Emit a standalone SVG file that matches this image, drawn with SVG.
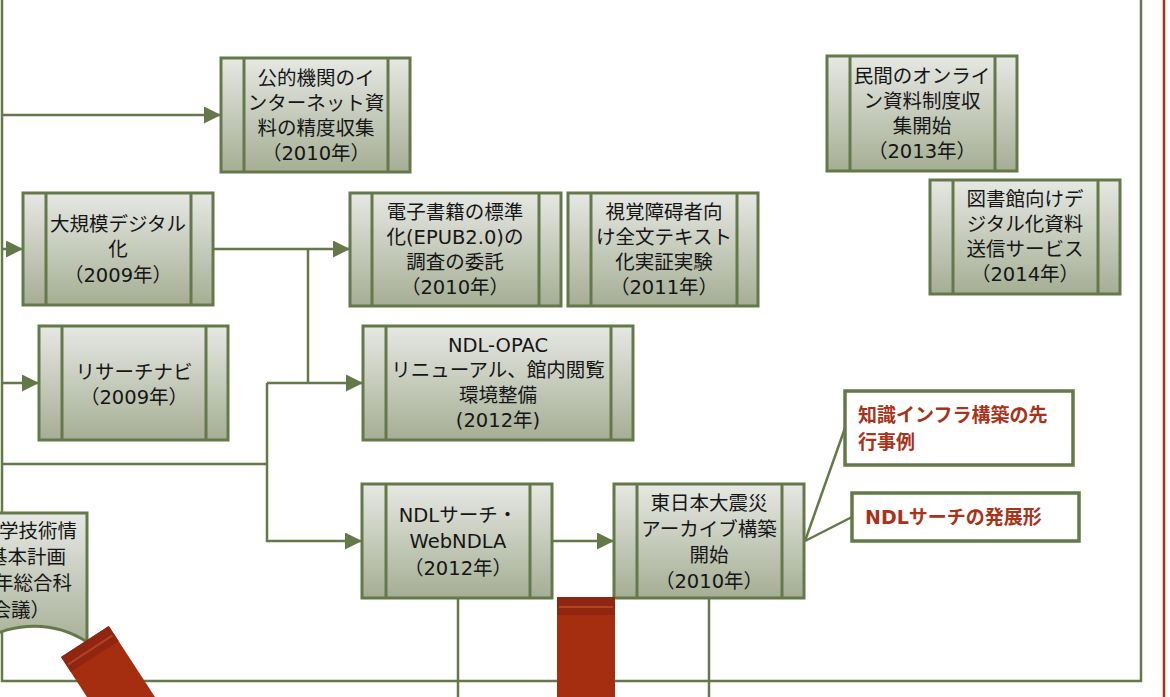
<svg xmlns="http://www.w3.org/2000/svg" width="1170" height="697" viewBox="0 0 1170 697">
<defs>
<linearGradient id="g" x1="0" y1="0" x2="0" y2="1">
<stop offset="0" stop-color="#e6e8e3"/>
<stop offset="1" stop-color="#a5ae94"/>
</linearGradient>
<marker id="ah" markerUnits="userSpaceOnUse" markerWidth="18" markerHeight="18" refX="17" refY="8.5" orient="auto">
<path d="M0,0 L17,8.5 L0,17 z" fill="#64784a"/>
</marker>
<style>
.box{fill:url(#g);stroke:#64784a;stroke-width:3}
.band{stroke:#64784a;stroke-width:3}
.t{font-family:"DejaVu Sans","Noto Sans CJK JP",sans-serif;font-size:19.5px;fill:#161616;text-anchor:middle}
.c{fill:none;stroke:#64784a;stroke-width:2.5}
.a{marker-end:url(#ah)}
.call{fill:#fff;stroke:#64784a;stroke-width:3.5}
.ct{font-family:"DejaVu Sans","Noto Sans CJK JP",sans-serif;font-size:19px;font-weight:bold;fill:#a8321a}
.bar{fill:#a52d10}
.cap{fill:#8e2611}
.capl{fill:#b4411f}
</style>
</defs>

<g id="frame">
<path class="c" d="M2,-5 V681 H1141 V-5"/>
<line x1="1164" y1="0" x2="1164" y2="697" stroke="#a8321a" stroke-width="2.5"/>
</g>

<g id="connectors">
<path class="c a" d="M2,115 H221"/>
<path class="c a" d="M2,249 H23"/>
<path class="c a" d="M213,249 H350"/>
<path class="c" d="M308,249 V383"/>
<path class="c a" d="M267,383 H363"/>
<path class="c" d="M2,464 H267"/>
<path class="c a" d="M267,383 V541 H362"/>
<path class="c a" d="M2,383 H39"/>
<path class="c a" d="M552,541 H614"/>
<path class="c" d="M805,541 L845,428"/>
<path class="c" d="M805,541 L852,517"/>
<path class="c" d="M458,598 V697"/>
<path class="c" d="M709,598 V697"/>
</g>

<g id="n-left">
<path class="box" d="M-30,513 H87 V642 A98,98 0 0 0 -30,650 Z"/>
<text class="t" style="text-anchor:end"><tspan x="77" y="538">学技術情</tspan><tspan x="66" y="564">基本計画</tspan><tspan x="72" y="590">年総合科</tspan><tspan x="50" y="617">会議）</tspan></text>
</g>

<g id="n1">
<rect class="box" x="221" y="58" width="189" height="114"/>
<line class="band" x1="244" y1="58" x2="244" y2="172"/><line class="band" x1="388" y1="58" x2="388" y2="172"/>
<text class="t"><tspan x="316" y="85">公的機関のイ</tspan><tspan x="316" y="110">ンターネット資</tspan><tspan x="316" y="135">料の精度収集</tspan><tspan x="316" y="160">（2010年）</tspan></text>
</g>

<g id="n2">
<rect class="box" x="23" y="193" width="190" height="112"/>
<line class="band" x1="46" y1="193" x2="46" y2="305"/><line class="band" x1="191" y1="193" x2="191" y2="305"/>
<text class="t"><tspan x="118" y="231">大規模デジタル</tspan><tspan x="118" y="256">化</tspan><tspan x="118" y="282">（2009年）</tspan></text>
</g>

<g id="n3">
<rect class="box" x="350" y="193" width="211" height="113"/>
<line class="band" x1="372" y1="193" x2="372" y2="306"/><line class="band" x1="539" y1="193" x2="539" y2="306"/>
<text class="t"><tspan x="455" y="219">電子書籍の標準</tspan><tspan x="455" y="244">化(EPUB2.0)の</tspan><tspan x="455" y="269">調査の委託</tspan><tspan x="455" y="294">（2010年）</tspan></text>
</g>

<g id="n4">
<rect class="box" x="568" y="193" width="190" height="113"/>
<line class="band" x1="591" y1="193" x2="591" y2="306"/><line class="band" x1="737" y1="193" x2="737" y2="306"/>
<text class="t"><tspan x="664" y="219">視覚障碍者向</tspan><tspan x="664" y="244">け全文テキスト</tspan><tspan x="664" y="269">化実証実験</tspan><tspan x="664" y="294">（2011年）</tspan></text>
</g>

<g id="n5">
<rect class="box" x="39" y="326" width="189" height="114"/>
<line class="band" x1="62" y1="326" x2="62" y2="440"/><line class="band" x1="206" y1="326" x2="206" y2="440"/>
<text class="t"><tspan x="134" y="379">リサーチナビ</tspan><tspan x="134" y="404">（2009年）</tspan></text>
</g>

<g id="n6">
<rect class="box" x="363" y="326" width="270" height="114"/>
<line class="band" x1="386" y1="326" x2="386" y2="440"/><line class="band" x1="611" y1="326" x2="611" y2="440"/>
<text class="t"><tspan x="498" y="352">NDL-OPAC</tspan><tspan x="498" y="377">リニューアル、館内閲覧</tspan><tspan x="498" y="402">環境整備</tspan><tspan x="498" y="427">(2012年)</tspan></text>
</g>

<g id="n7">
<rect class="box" x="362" y="484" width="190" height="114"/>
<line class="band" x1="386" y1="484" x2="386" y2="598"/><line class="band" x1="530" y1="484" x2="530" y2="598"/>
<text class="t"><tspan x="458" y="522">NDLサーチ・</tspan><tspan x="458" y="548">WebNDLA</tspan><tspan x="458" y="575">（2012年）</tspan></text>
</g>

<g id="n8">
<rect class="box" x="614" y="484" width="190" height="114"/>
<line class="band" x1="637" y1="484" x2="637" y2="598"/><line class="band" x1="782" y1="484" x2="782" y2="598"/>
<text class="t"><tspan x="709" y="510">東日本大震災</tspan><tspan x="709" y="536">アーカイブ構築</tspan><tspan x="709" y="562">開始</tspan><tspan x="709" y="588">（2010年）</tspan></text>
</g>

<g id="n9">
<rect class="box" x="827" y="56" width="190" height="115"/>
<line class="band" x1="850" y1="56" x2="850" y2="171"/><line class="band" x1="995" y1="56" x2="995" y2="171"/>
<text class="t"><tspan x="922" y="83">民間のオンライ</tspan><tspan x="922" y="108">ン資料制度収</tspan><tspan x="922" y="133">集開始</tspan><tspan x="922" y="158">（2013年）</tspan></text>
</g>

<g id="n10">
<rect class="box" x="930" y="180" width="190" height="114"/>
<line class="band" x1="953" y1="180" x2="953" y2="294"/><line class="band" x1="1098" y1="180" x2="1098" y2="294"/>
<text class="t"><tspan x="1025" y="206">図書館向けデ</tspan><tspan x="1025" y="231">ジタル化資料</tspan><tspan x="1025" y="256">送信サービス</tspan><tspan x="1025" y="281">（2014年）</tspan></text>
</g>

<g id="c1">
<rect class="call" x="845" y="391" width="228" height="74"/>
<text class="ct"><tspan x="858" y="422">知識インフラ構築の先</tspan><tspan x="858" y="449">行事例</tspan></text>
</g>

<g id="c2">
<rect class="call" x="852" y="493" width="227" height="48"/>
<text class="ct"><tspan x="865" y="524">NDLサーチの発展形</tspan></text>
</g>

<g id="bar1">
<rect class="bar" x="557" y="597" width="58" height="110"/>
<rect class="cap" x="557" y="597" width="58" height="18"/>
<rect class="capl" x="559" y="606" width="54" height="2"/>
</g>

<g id="bar2" transform="translate(61,657) rotate(-33)">
<rect class="bar" x="0" y="0" width="57" height="120"/>
<rect class="cap" x="0" y="0" width="57" height="18"/>
<rect class="capl" x="2" y="9" width="53" height="2"/>
</g>
</svg>
